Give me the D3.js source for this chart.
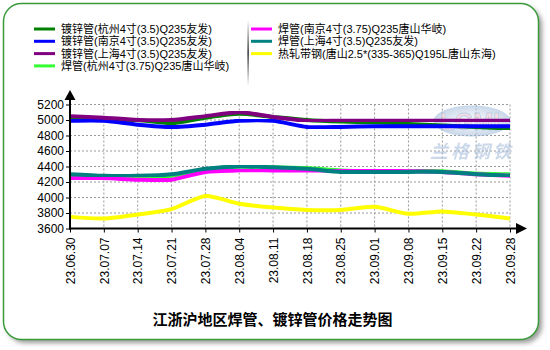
<!DOCTYPE html>
<html>
<head>
<meta charset="utf-8">
<script src="https://cdn.jsdelivr.net/npm/d3@7"></script>
<style>
  body { margin: 0; background: #fff; }
  text { font-family: "Liberation Sans", Arial, "Noto Sans CJK SC", sans-serif; }
</style>
</head>
<body>
<div id="chart"></div>
<script>
// data
var dates = ["23.06.30", "23.07.07", "23.07.14", "23.07.21", "23.07.28", "23.08.04", "23.08.11",
  "23.08.18", "23.08.25", "23.09.01", "23.09.08", "23.09.15", "23.09.22", "23.09.28"];
var yTicks = [3600, 3800, 4000, 4200, 4400, 4600, 4800, 5000, 5200];

var seriesNames = [
  "镀锌管(杭州4寸(3.5)Q235友发)",
  "镀锌管(南京4寸(3.5)Q235友发)",
  "镀锌管(上海4寸(3.5)Q235友发)",
  "焊管(杭州4寸(3.75)Q235唐山华岐)",
  "焊管(南京4寸(3.75)Q235唐山华岐)",
  "焊管(上海4寸(3.5)Q235友发)",
  "热轧带钢(唐山2.5*(335-365)Q195L唐山东海)"
];
var seriesColors = ["#008000", "#0000ff", "#800080", "#33ff33", "#ff00ff", "#008080", "#ffff00"];

var hzGalv = [5020, 5010, 5000, 4960, 5030, 5080, 5040, 5000, 4980, 4970, 4950, 4930, 4910, 4890];
var njGalv = [4990, 4990, 4940, 4910, 4940, 4990, 4990, 4910, 4910, 4920, 4920, 4920, 4920, 4920];
var shGalv = [5050, 5030, 5000, 5000, 5050, 5100, 5040, 4990, 4990, 4990, 4990, 4990, 4990, 4990];
var hzWeld = [4270, 4260, 4260, 4280, 4360, 4400, 4390, 4380, 4350, 4340, 4340, 4340, 4310, 4300];
var njWeld = [4250, 4250, 4230, 4230, 4330, 4350, 4350, 4350, 4350, 4350, 4340, 4330, 4300, 4280];
var shWeld = [4300, 4280, 4280, 4300, 4370, 4400, 4390, 4370, 4330, 4330, 4330, 4330, 4300, 4280];
var hotStrip = [3750, 3730, 3780, 3850, 4020, 3920, 3870, 3840, 3840, 3880, 3790, 3820, 3780, 3730];

var allSeries = [hzGalv, njGalv, shGalv, hzWeld, njWeld, shWeld, hotStrip];

var W = 550, H = 350;
var svg = d3.select("#chart").append("svg").attr("width", W).attr("height", H);

var defs = svg.append("defs");
var blur = defs.append("filter").attr("id", "soft");
blur.append("feGaussianBlur").attr("stdDeviation", 0.6);
var sepGrad = defs.append("linearGradient").attr("id", "sep")
  .attr("x1", 0).attr("y1", 0).attr("x2", 0).attr("y2", 1);
sepGrad.append("stop").attr("offset", "0%").attr("stop-color", "#fff");
sepGrad.append("stop").attr("offset", "50%").attr("stop-color", "#000");
sepGrad.append("stop").attr("offset", "100%").attr("stop-color", "#fff");
var shadow = defs.append("filter").attr("id", "shadow").attr("x", "-5%").attr("y", "-5%")
  .attr("width", "115%").attr("height", "115%");
shadow.append("feGaussianBlur").attr("stdDeviation", 2.5);
var logoGrad = defs.append("radialGradient").attr("id", "logo");
logoGrad.append("stop").attr("offset", "0%").attr("stop-color", "#ffffff");
logoGrad.append("stop").attr("offset", "100%").attr("stop-color", "#a8bfdc");

// frame with shadow
svg.append("rect").attr("x", 7).attr("y", 7).attr("width", 535).attr("height", 336)
  .attr("rx", 18).attr("fill", "#999").attr("filter", "url(#shadow)");
svg.append("rect").attr("x", 3.5).attr("y", 3.5).attr("width", 535).attr("height", 336)
  .attr("rx", 18).attr("fill", "#fff").attr("stroke", "#3a9a3a").attr("stroke-width", 1.5);

// legend
var legend = svg.append("g");
seriesNames.forEach(function (name, i) {
  var col = i < 4 ? 0 : 1;
  var row = i < 4 ? i : i - 4;
  var lx = col == 0 ? 34 : 251;
  var ly = 29 + row * 12.3;
  legend.append("line").attr("x1", lx).attr("x2", lx + 21).attr("y1", ly).attr("y2", ly)
    .attr("stroke", seriesColors[i]).attr("stroke-width", 3);
  legend.append("text").attr("x", lx + 27).attr("y", ly + 4)
    .attr("font-size", 11).attr("fill", "#000").text(name);
});
legend.append("rect").attr("x", 247.5).attr("y", 20).attr("width", 1.2).attr("height", 66)
  .attr("fill", "url(#sep)");

// scales
var x = d3.scalePoint().domain(dates).range([70, 510]);
var y = d3.scaleLinear().domain([3600, 5200]).range([228.5, 104.5]);

// grid
var grid = svg.append("g").attr("stroke", "#999").attr("stroke-dasharray", "2,2").attr("stroke-width", 1);
grid.selectAll(".gx").data(dates.slice(1)).join("line")
  .attr("x1", d => x(d)).attr("x2", d => x(d)).attr("y1", 104.5).attr("y2", 228.5);
grid.selectAll(".gy").data(yTicks.slice(1)).join("line")
  .attr("x1", 70).attr("x2", 510).attr("y1", d => y(d)).attr("y2", d => y(d));

// watermark
var wm = svg.append("g").attr("opacity", 0.6);
wm.append("ellipse").attr("cx", 472).attr("cy", 121).attr("rx", 38).attr("ry", 15)
  .attr("fill", "url(#logo)").attr("stroke", "#9ab8dc");
wm.append("text").attr("x", 470).attr("y", 130).attr("text-anchor", "middle")
  .attr("font-size", 24).attr("font-weight", "bold").attr("fill", "#f0c8d0")
  .attr("stroke", "#8fb0d8").attr("stroke-width", 0.8).text("LGMI");
wm.append("text").attr("x", 472).attr("y", 158).attr("text-anchor", "middle")
  .attr("font-size", 18).attr("font-style", "italic").attr("font-weight", "bold")
  .attr("fill", "#a9bfdc").attr("letter-spacing", 3)
  .style("font-family", "'Noto Sans CJK SC'").text("兰格钢铁");

// lines
var line = d3.line().x((d, i) => x(dates[i])).y(d => y(d)).curve(d3.curveCardinal.tension(0.3));
svg.append("g").selectAll("path").data(allSeries).join("path")
  .attr("d", d => line(d))
  .attr("fill", "none")
  .attr("stroke", (d, i) => seriesColors[i])
  .attr("stroke-width", 4)
  .attr("stroke-linejoin", "round")
  .attr("filter", "url(#soft)");

// axes
var yAxis = svg.append("g").attr("transform", "translate(70,0)")
  .call(d3.axisLeft(y).tickValues(yTicks).tickSize(4).tickFormat(d3.format("d")));
yAxis.select(".domain").remove();
yAxis.selectAll("line").attr("stroke", "#000");
yAxis.selectAll("text").attr("font-size", 12).attr("fill", "#000").attr("dx", 1);

var xAxis = svg.append("g").attr("transform", "translate(0,228.5)")
  .call(d3.axisBottom(x).tickSize(4));
xAxis.select(".domain").remove();
xAxis.selectAll("line").attr("stroke", "#000");
xAxis.selectAll("text").attr("font-size", 12).attr("fill", "#000")
  .attr("transform", "rotate(-90)").attr("text-anchor", "end")
  .attr("x", -9).attr("y", 0).attr("dy", "0.35em");

svg.append("line").attr("x1", 70).attr("x2", 70).attr("y1", 98).attr("y2", 229.5)
  .attr("stroke", "#000").attr("stroke-width", 2);
svg.append("line").attr("x1", 69).attr("x2", 518).attr("y1", 228.5).attr("y2", 228.5)
  .attr("stroke", "#000").attr("stroke-width", 2);
svg.append("path").attr("d", "M70,90 L75.5,100 L64.5,100 Z").attr("fill", "#000");
svg.append("path").attr("d", "M527,228.5 L516,223 L516,234 Z").attr("fill", "#000");

// title
svg.append("text").attr("x", 272.5).attr("y", 325).attr("text-anchor", "middle")
  .attr("font-size", 15).attr("font-weight", "bold").attr("fill", "#000")
  .text("江浙沪地区焊管、镀锌管价格走势图");
</script>
</body>
</html>
